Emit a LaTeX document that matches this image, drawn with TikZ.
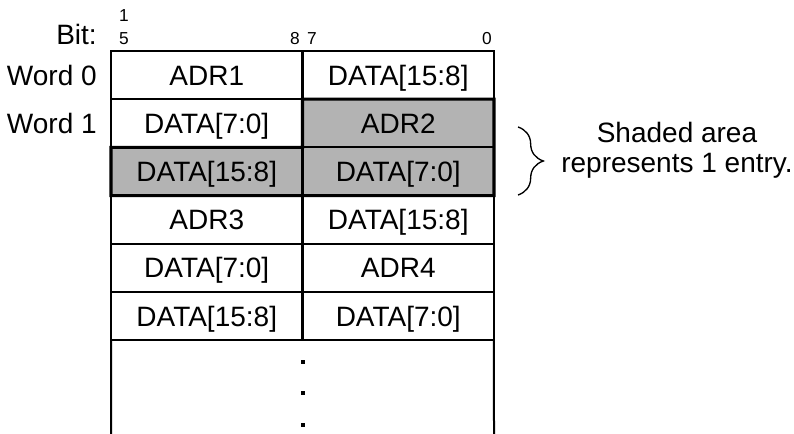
\documentclass[tikz,border=0pt]{standalone}
\usepackage{fontspec}
\setmainfont{Liberation Sans}
\usetikzlibrary{decorations.pathreplacing}
\definecolor{shadegray}{RGB}{179,179,179}
\tikzset{
  cell/.style={draw, line width=1.5pt, inner sep=0pt, outer sep=0pt,
    minimum width=143.6pt, minimum height=36.15pt,
    text height=15pt, text depth=0pt,
    font=\fontsize{21}{25}\selectfont},
  shaded/.style={cell, fill=shadegray},
  lbl/.style={anchor=east, inner sep=0pt, text height=15pt, text depth=0pt,
    font=\fontsize{21}{25}\selectfont},
  bitno/.style={inner sep=0pt, text height=9.3pt, text depth=0pt,
    font=\fontsize{13}{17.3}\selectfont}
}
\begin{document}
\begin{tikzpicture}[x=0.75pt,y=-0.75pt]
  \useasboundingbox (0,0) rectangle (794,434);
  % labels on the left
  \node[lbl] (bit) at (97,35) {Bit:};
  \node[lbl] (word0) at (97,75.1) {Word 0};
  \node[lbl] (word1) at (97,123.3) {Word 1};
  % bit numbers
  \node[bitno] (b15a) at (124,15) {1};
  \node[bitno] (b15b) at (124,38) {5};
  \node[bitno] (b8) at (295,38) {8};
  \node[bitno] (b7) at (312,38) {7};
  \node[bitno] (b0) at (487,38) {0};
  % the words
  \node[cell] (w0a) at (206.75,75.1) {ADR1};
  \node[cell] (w0b) at (398.25,75.1) {DATA[15:8]};
  \node[cell] (w1a) at (206.75,123.3) {DATA[7:0]};
  \node[shaded] (w1b) at (398.25,123.3) {ADR2};
  \node[shaded] (w2a) at (206.75,171.5) {DATA[15:8]};
  \node[shaded] (w2b) at (398.25,171.5) {DATA[7:0]};
  \node[cell] (w3a) at (206.75,219.7) {ADR3};
  \node[cell] (w3b) at (398.25,219.7) {DATA[15:8]};
  \node[cell] (w4a) at (206.75,267.9) {DATA[7:0]};
  \node[cell] (w4b) at (398.25,267.9) {ADR4};
  \node[cell] (w5a) at (206.75,316.1) {DATA[15:8]};
  \node[cell] (w5b) at (398.25,316.1) {DATA[7:0]};
  % border of the entry
  \draw[line width=2.3pt] (w1b.north west) -- (w1b.north east) -- (w2b.south east)
    -- (w2a.south west) -- (w2a.north west) -- (w1b.south west) -- cycle;
  % open end of the table
  \coordinate (openl) at (111,434);
  \coordinate (openr) at (494,434);
  \draw[line width=1.5pt] (w5a.south west) -- (openl);
  \draw[line width=1.5pt] (w5b.south east) -- (openr);
  \foreach \y in {362,393.5,425}
    \fill (300.5,\y-2) rectangle (304.5,\y+2);
  % brace and note
  \coordinate (bt) at (518,127);
  \coordinate (bb) at (518,195);
  \draw[line width=1pt, decoration={brace, amplitude=19pt}, decorate] (bt) -- (bb);
  \node[align=center, inner sep=0pt, font=\fontsize{21}{22.5}\selectfont] (note) at (677,150) {Shaded area\\represents 1 entry.};
\end{tikzpicture}
\end{document}
